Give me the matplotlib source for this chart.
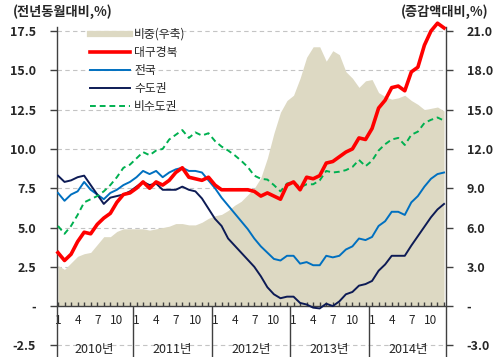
import matplotlib
matplotlib.use('Agg')
import matplotlib.pyplot as plt
import numpy as np
from matplotlib.lines import Line2D

plt.rcParams['font.family'] = ['Noto Sans CJK KR', 'DejaVu Sans']

years = ['2010년', '2011년', '2012년', '2013년', '2014년']
months = list(range(1, 13)) * len(years)
shown_months = [1, 4, 7, 10]

# 비중(우축) - right axis, %
share = [3.1, 2.8, 3.3, 3.8, 4.0, 4.1, 4.7, 5.3, 5.3, 5.7, 5.9, 5.9,
         5.9, 5.9, 5.8, 5.9, 6.0, 6.1, 6.3, 6.3, 6.2, 6.2, 6.4, 6.7,
         6.9, 7.0, 7.3, 7.7, 8.0, 8.5, 9.0, 9.8, 11.3, 13.2, 14.8, 15.7,
         16.1, 17.4, 19.0, 19.8, 19.8, 18.7, 19.5, 19.2, 17.9, 17.4, 16.7, 17.2,
         17.3, 16.3, 16.0, 15.8, 15.9, 16.1, 15.7, 15.4, 15.0, 15.1, 15.2, 14.9]
# left axis, 전년동월대비 %
daegu = [3.4, 2.9, 3.3, 4.1, 4.7, 4.6, 5.2, 5.6, 5.9, 6.6, 7.1, 7.2,
         7.5, 7.9, 7.5, 7.9, 7.7, 8.0, 8.5, 8.8, 8.2, 8.1, 8.0, 8.2,
         7.7, 7.4, 7.4, 7.4, 7.4, 7.4, 7.3, 7.0, 7.2, 7.0, 6.8, 7.7,
         7.9, 7.4, 8.2, 8.1, 8.3, 9.1, 9.2, 9.5, 9.8, 10.0, 10.7, 10.6,
         11.3, 12.6, 13.1, 13.9, 14.0, 13.7, 14.9, 15.2, 16.6, 17.5, 18.0, 17.7]
nation = [7.2, 6.7, 7.1, 7.3, 7.9, 7.4, 7.1, 6.8, 7.2, 7.4, 7.7, 7.9,
          8.2, 8.6, 8.4, 8.6, 8.2, 8.5, 8.7, 8.8, 8.6, 8.6, 8.5, 8.0,
          7.5, 6.9, 6.4, 5.9, 5.4, 4.9, 4.3, 3.8, 3.4, 3.0, 2.9, 3.2,
          3.2, 2.7, 2.8, 2.6, 2.6, 3.2, 3.1, 3.2, 3.6, 3.8, 4.3, 4.2,
          4.4, 5.1, 5.4, 6.0, 6.0, 5.8, 6.6, 7.0, 7.6, 8.1, 8.4, 8.5]
capital = [8.3, 7.9, 8.0, 8.2, 8.3, 7.7, 7.1, 6.5, 6.9, 7.0, 7.1, 7.3,
           7.6, 7.9, 7.7, 7.8, 7.4, 7.4, 7.4, 7.6, 7.4, 7.3, 6.85, 6.2,
           5.55, 5.1, 4.3, 3.85, 3.4, 2.95, 2.5, 1.9, 1.2, 0.75, 0.5, 0.6,
           0.6, 0.2, 0.1, -0.1, -0.15, 0.15, 0.0, 0.3, 0.75, 0.9, 1.3, 1.4,
           1.6, 2.25, 2.65, 3.2, 3.2, 3.2, 3.85, 4.45, 5.05, 5.65, 6.15, 6.5]
noncap = [5.1, 4.6, 5.1, 5.8, 6.6, 6.8, 7.0, 7.3, 7.7, 8.2, 8.8, 9.0,
          9.4, 9.8, 9.6, 9.9, 10.0, 10.6, 10.9, 11.2, 10.7, 11.05, 10.85, 11.0,
          10.5, 10.15, 9.9, 9.6, 9.25, 8.85, 8.3, 8.1, 8.05, 7.7, 7.3, 7.8,
          7.9, 7.55, 7.75, 7.75, 8.0, 8.6, 8.5, 8.55, 8.65, 8.85, 9.3, 8.9,
          9.25, 9.9, 10.3, 10.6, 10.7, 10.25, 10.9, 11.1, 11.65, 11.85, 12.0, 11.8]

x = np.arange(len(daegu))
dark = '#262626'

fig = plt.figure(figsize=(5, 3.57), dpi=100)
ax = fig.add_axes([0.114, 0.0, 0.778, 0.924])
ax2 = ax.twinx()
ax.set_zorder(ax2.get_zorder() + 1)
ax.patch.set_visible(False)

ax.set_xlim(-0.15, 59.3)
ax.set_ylim(-3.24, 17.75)
ax2.set_ylim(-3.24 * 1.2, 17.75 * 1.2)

# grid sits under the area
ax2.set_axisbelow(True)
ax2.yaxis.grid(True, color='#c4c4c4', ls=(0, (4, 3)), lw=0.8)
ax2.fill_between(x, 0, share, color='#DDD9C3', lw=0, zorder=1)

ax.plot(x, daegu, color='#FF0000', lw=2.6, zorder=5, clip_on=False)
ax.plot(x, nation, color='#0070C0', lw=1.4, zorder=4)
ax.plot(x, capital, color='#0D1B55', lw=1.4, zorder=4)
ax.plot(x, noncap, color='#00B050', lw=1.4, ls=(0, (3, 2)), zorder=4)

# spines
for s in ['top', 'right']:
    ax.spines[s].set_visible(False)
for s in ['top', 'left', 'bottom']:
    ax2.spines[s].set_visible(False)
ax.spines['bottom'].set_position(('data', 0))
for sp in [ax.spines['left'], ax.spines['bottom'], ax2.spines['right']]:
    sp.set_color('#404040')
    sp.set_linewidth(1)

# y ticks
lt = np.arange(-2.5, 17.6, 2.5)
ax.set_yticks(lt)
ax.set_yticklabels(['-' if abs(v) < 1e-9 else f'{v:.1f}' for v in lt])
rt = np.arange(-3, 21.1, 3)
ax2.set_yticks(rt)
ax2.set_yticklabels(['-' if abs(v) < 1e-9 else f'{v:.1f}' for v in rt])
for a in [ax, ax2]:
    a.tick_params(axis='y', direction='out', length=5, width=1, color='#404040',
                  pad=10, labelsize=9, labelcolor=dark)
    for t in a.get_yticklabels():
        t.set_fontweight('bold')

# x ticks: every month, label 1,4,7,10
ax.set_xticks(x)
ax.set_xticklabels([str(m) if m in shown_months else '' for m in months])
ax.tick_params(axis='x', direction='in', length=3, width=1, color='#404040',
               pad=6, labelsize=8.5, labelcolor=dark)

# year separators and labels
seps = [12 * k - 0.5 for k in range(1, len(years))]
ax.vlines(seps, -3.24, 0, color='#404040', lw=1, clip_on=False)
for k, yr in enumerate(years):
    ax.text(12 * k + 5.5, -2.75, yr, ha='center', va='center', fontsize=9, color=dark)

fig.text(13 / 500, 1 - 12 / 357, '(전년동월대비,%)', ha='left', va='center',
         fontsize=9.5, fontweight='bold', color=dark)
fig.text(489 / 500, 1 - 12 / 357, '(증감액대비,%)', ha='right', va='center',
         fontsize=9.5, fontweight='bold', color=dark)

handles = [Line2D([], [], color='#DDD9C3', lw=4.5),
           Line2D([], [], color='#FF0000', lw=2.6),
           Line2D([], [], color='#0070C0', lw=1.4),
           Line2D([], [], color='#0D1B55', lw=1.4),
           Line2D([], [], color='#00B050', lw=1.4, ls=(0, (3, 2)))]
labels = ['비중(우축)', '대구경북', '전국', '수도권', '비수도권']
leg = ax.legend(handles, labels, loc='upper left', bbox_to_anchor=(90 / 500, 1 - 28 / 357),
                bbox_transform=fig.transFigure, frameon=False, fontsize=8.5,
                handlelength=3.4, handletextpad=0.35, labelspacing=0.42,
                borderaxespad=0, borderpad=0)
for t in leg.get_texts():
    t.set_color(dark)

fig.savefig('out.png', dpi=100)
